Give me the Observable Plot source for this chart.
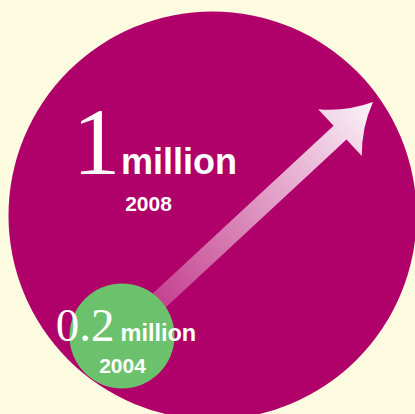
<!DOCTYPE html>
<html>
<head>
<meta charset="utf-8">
<script src="https://cdn.jsdelivr.net/npm/d3@7"></script>
<script src="https://cdn.jsdelivr.net/npm/@observablehq/plot@0.6"></script>
<style>
  html, body { margin: 0; padding: 0; background: #FEFCE0; }
  #chart svg { display: block; }
</style>
</head>
<body>
<div id="chart"></div>
<script>
// ---- data ----
const years = [2004, 2008];
const values = [0.2, 1];
const valueLabels = ["0.2", "1"];
const unit = "million";
const circleColors = ["#6CC26C", "#B0006A"];

const rows = years.map((year, i) => ({year, value: values[i], label: valueLabels[i], color: circleColors[i]}));

// ---- layout (pixel-like units on identity-ranged scales) ----
const layout = {
  2004: {cx: 121.5, cy: 335.5, valueX: 114, unitX: 120, base: 340, valueSize: 47, unitSize: 23.5, yearX: 122, yearBase: 372},
  2008: {cx: 212, cy: 215, valueX: 120, unitX: 120.5, base: 173, valueSize: 96, unitSize: 36, yearX: 148, yearBase: 210}
};
const arrowTip = {x: 373, y: 102};
const arrowRows = [{from: 2004, to: 2008}];

const big = d => d.year === 2008;
const small = d => d.year === 2004;

function arrowRender(index, scales, channels) {
  const {x1, y1, x2, y2} = channels;
  const g = d3.create("svg:g");
  for (const i of index) {
    const sx = x1[i], sy = y1[i], tx = x2[i], ty = y2[i];
    const dx = tx - sx, dy = ty - sy, L = Math.hypot(dx, dy);
    const ux = dx / L, uy = dy / L, nx = -uy, ny = ux;
    const P = (a, l) => [sx + a * ux + l * nx, sy + a * uy + l * ny].map(v => v.toFixed(2)).join(",");
    const id = "arrowGrad" + i;
    const grad = g.append("defs").append("linearGradient")
      .attr("id", id).attr("gradientUnits", "userSpaceOnUse")
      .attr("x1", sx).attr("y1", sy).attr("x2", tx).attr("y2", ty);
    grad.append("stop").attr("offset", 0).attr("stop-color", "#ffffff").attr("stop-opacity", 0.14);
    grad.append("stop").attr("offset", 1).attr("stop-color", "#ffffff").attr("stop-opacity", 0.95);
    const hw = 9.5, hb = 45, bw = 32;
    const d = `M${P(0, -hw)} L${P(L - hb, -hw)} L${P(L - hb, -bw)} Q${P(L - 26, -11)} ${P(L, 0)} Q${P(L - 26, 11)} ${P(L - hb, bw)} L${P(L - hb, hw)} L${P(0, hw)} Z`;
    g.append("path").attr("d", d).attr("fill", `url(#${id})`);
  }
  return g.node();
}

const chart = Plot.plot({
  width: 415,
  height: 414,
  margin: 0,
  x: {domain: [0, 415], range: [0, 415], axis: null},
  y: {domain: [0, 414], range: [0, 414], axis: null},
  r: {type: "linear", domain: [0.2, 1], range: [52.5, 204]},
  color: {type: "identity"},
  style: {background: "#FEFCE0", overflow: "hidden"},
  marks: [
    Plot.dot(rows, {filter: big, x: d => layout[d.year].cx, y: d => layout[d.year].cy, r: "value", fill: "color"}),
    Plot.arrow(arrowRows, {
      x1: d => layout[d.from].cx, y1: d => layout[d.from].cy,
      x2: () => arrowTip.x, y2: () => arrowTip.y,
      render: arrowRender
    }),
    Plot.dot(rows, {filter: small, x: d => layout[d.year].cx, y: d => layout[d.year].cy, r: "value", fill: "color"}),
    Plot.text(rows, {
      x: d => layout[d.year].valueX, y: d => layout[d.year].base, text: "label",
      fontSize: d => layout[d.year].valueSize, fontFamily: "Liberation Serif",
      textAnchor: "end", lineAnchor: "bottom", fill: "white"
    }),
    Plot.text(rows, {
      x: d => layout[d.year].unitX, y: d => layout[d.year].base, text: () => unit,
      fontSize: d => layout[d.year].unitSize, fontFamily: "Liberation Sans", fontWeight: "bold",
      textAnchor: "start", lineAnchor: "bottom", fill: "white"
    }),
    Plot.text(rows, {
      x: d => layout[d.year].yearX, y: d => layout[d.year].yearBase, text: d => String(d.year),
      fontSize: 21, fontFamily: "Liberation Sans", fontWeight: "bold",
      textAnchor: "middle", lineAnchor: "bottom", fill: "white"
    })
  ]
});
document.getElementById("chart").appendChild(chart);
</script>
</body>
</html>
